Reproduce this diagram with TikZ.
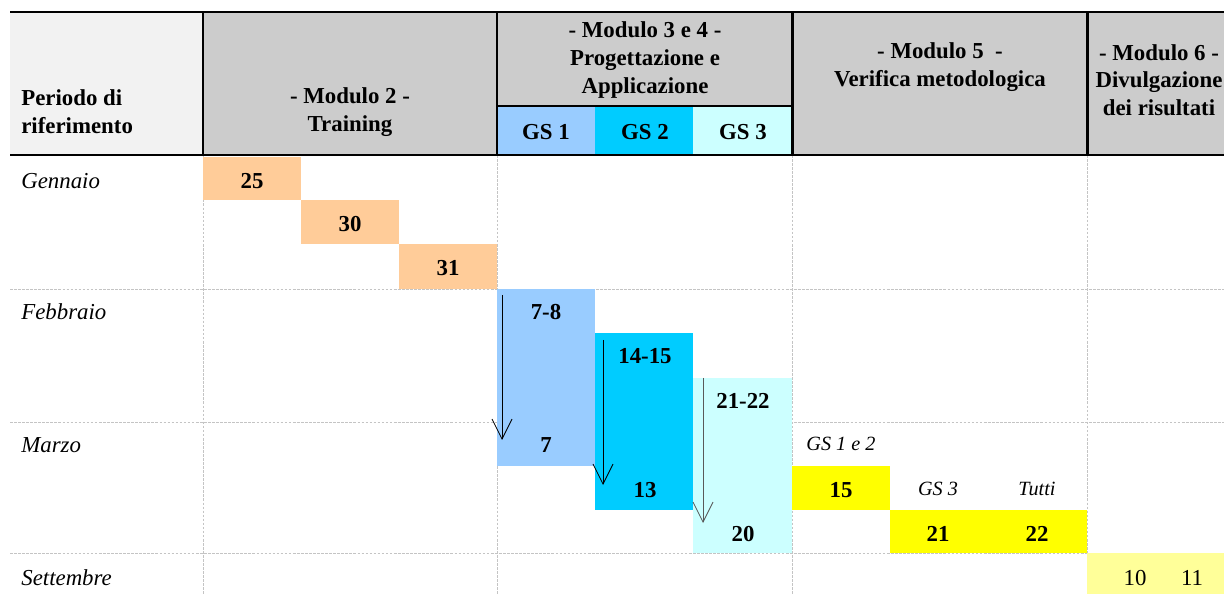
\documentclass[tikz,border=0pt]{standalone}
\usepackage{fontspec}
\setmainfont{Liberation Serif}
\usetikzlibrary{arrows.meta}
\definecolor{headlight}{HTML}{F2F2F2}
\definecolor{headgray}{HTML}{CCCCCC}
\definecolor{gsone}{HTML}{99CCFF}
\definecolor{gstwo}{HTML}{00CCFF}
\definecolor{gsthree}{HTML}{CCFFFF}
\definecolor{trainorange}{HTML}{FFCC99}
\definecolor{checkyellow}{HTML}{FFFF00}
\definecolor{paleyellow}{HTML}{FFFF99}
\definecolor{gridgray}{HTML}{C4C4C4}

\begin{document}
\begin{tikzpicture}[
x=0.02cm, y=-0.02cm,
every node/.style={font=\fontsize{13}{15.8}\selectfont, inner sep=0pt},
head/.style={font=\fontsize{13}{15.8}\selectfont\bfseries, align=center},
day/.style={font=\fontsize{13}{15.8}\selectfont\bfseries},
month/.style={font=\fontsize{13}{15.8}\selectfont\itshape, anchor=west},
who/.style={font=\fontsize{11.5}{13}\selectfont\itshape},
rule/.style={line width=1.7pt},
grid/.style={gridgray, dash pattern=on 1.5pt off 0.8pt, line width=0.5pt},
arrow/.style={-{Straight Barb[length=4mm, width=4mm]}, line width=0.5pt}
]
\useasboundingbox (0,0) rectangle (1224,594);
\clip (0,0) rectangle (1224,594);

% Header background
\fill[headlight] (10,12) rectangle (203,155);
\fill[headgray] (203,12) rectangle (1224,155);
\fill[gsone] (497,106) rectangle (595,155);
\fill[gstwo] (595,106) rectangle (693,155);
\fill[gsthree] (693,106) rectangle (792,155);

% Dotted grid of the body
\draw[grid] (10,289) -- (1224,289);
\draw[grid] (10,422) -- (1224,422);
\draw[grid] (10,553) -- (1224,553);
\draw[grid] (203,155) -- (203,594);
\draw[grid] (497,155) -- (497,594);
\draw[grid] (792,155) -- (792,594);
\draw[grid] (1087,155) -- (1087,594);

% Bars
\fill[trainorange] (203,157) rectangle (301,200);
\fill[trainorange] (301,200) rectangle (399,244);
\fill[trainorange] (399,244) rectangle (497,289);
\fill[gsone] (497,289) rectangle (595,466);
\fill[gstwo] (595,333) rectangle (693,510);
\fill[gsthree] (693,378) rectangle (792,553);
\fill[checkyellow] (792,466) rectangle (890,510);
\fill[checkyellow] (890,510) rectangle (1087,553);
\fill[paleyellow] (1087,553) rectangle (1224,594);

% Header rules
\draw[rule] (10,12) -- (1224,12);
\draw[rule] (10,155) -- (1224,155);
\draw[rule] (203,12) -- (203,155);
\draw[rule] (497,12) -- (497,155);
\draw[rule] (792,12) -- (792,155);
\draw[rule] (1087,12) -- (1087,155);
\draw[rule] (497,106) -- (792,106);

% Header text
\node[head, align=left, anchor=west] (period) at (21,112) {Periodo di\\riferimento};
\node[head] (mod2) at (350,112) {- Modulo 2 -\\Training};
\node[head] (mod34) at (645,60) {- Modulo 3 e 4 -\\Progettazione e\\Applicazione};
\node[head] (gs1) at (546,132) {GS 1};
\node[head] (gs2) at (645,132) {GS 2};
\node[head] (gs3) at (743,132) {GS 3};
\node[head] (mod5) at (940,67) {- Modulo 5\ \ -\\Verifica metodologica};
\node[head] (mod6) at (1159,80) {- Modulo 6 -\\Divulgazione\\dei risultati};

% Months
\node[month] (jan) at (21,181) {Gennaio};
\node[month] (feb) at (21,312) {Febbraio};
\node[month] (mar) at (21,445) {Marzo};
\node[month] (sep) at (21,578) {Settembre};

% Training days
\node[day] (d25) at (252,181) {25};
\node[day] (d30) at (350,224) {30};
\node[day] (d31) at (448,268) {31};

% Design and application
\node[day] (s1a) at (546,312) {7-8};
\node[day] (s1b) at (546,445) {7};
\node[day] (s2a) at (645,356) {14-15};
\node[day] (s2b) at (645,490) {13};
\node[day] (s3a) at (743,401) {21-22};
\node[day] (s3b) at (743,534) {20};

\coordinate (a1) at (502,295);
\coordinate (b1) at (502,440);
\coordinate (a2) at (603,340);
\coordinate (b2) at (603,485);
\coordinate (a3) at (703,378);
\coordinate (b3) at (703,523);
\draw[arrow] (a1) -- (b1);
\draw[arrow] (a2) -- (b2);
\draw[arrow, black!65] (a3) -- (b3);

% Check
\node[who] (w12) at (841,444) {GS 1 e 2};
\node[day] (v15) at (841,490) {15};
\node[who] (w3) at (938,489) {GS 3};
\node[who] (wall) at (1037,489) {Tutti};
\node[day] (v21) at (938,534) {21};
\node[day] (v22) at (1037,534) {22};

% Dissemination
\node (p10) at (1135,578) {10};
\node (p11) at (1192,578) {11};
\end{tikzpicture}
\end{document}
